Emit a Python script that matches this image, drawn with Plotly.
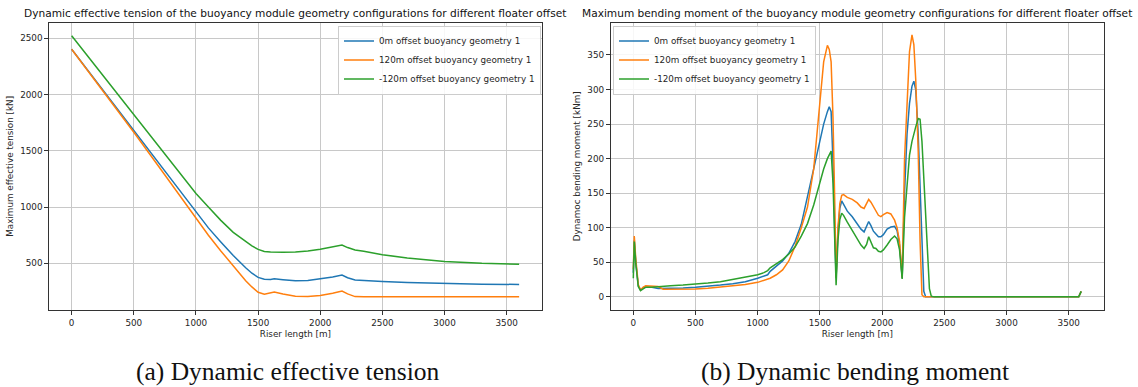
import plotly.graph_objects as go

W, H = 1138, 387

# ---- Effective tension envelopes along the riser ----
tension_length = [0, 250, 500, 750, 1000, 1100, 1200, 1300, 1400, 1450, 1500, 1550, 1600, 1630,
                  1700, 1800, 1900, 2000, 2100, 2175, 2220, 2280, 2350, 2500, 2700, 3000, 3300, 3600]
tension_0m = [2403, 2040, 1680, 1315, 950, 815, 690, 570, 460, 412, 375, 358, 357, 362,
              355, 346, 348, 360, 378, 395, 372, 352, 347, 338, 330, 320, 315, 312]
tension_120m = [2403, 2035, 1665, 1285, 895, 750, 610, 475, 345, 290, 242, 226, 234, 245,
                228, 208, 204, 214, 234, 253, 228, 204, 202, 202, 202, 202, 202, 202]
tension_neg120m = [2523, 2170, 1820, 1470, 1120, 1000, 882, 775, 690, 655, 624, 606, 600, 598,
                   598, 600, 609, 625, 645, 663, 640, 618, 607, 577, 548, 517, 500, 492]

# ---- Bending moment envelopes along the riser ----
moment_length = [0, 8, 20, 40, 58, 80, 100, 150, 200, 240,
                 300, 400, 500, 600, 700, 800, 900, 1000, 1050, 1080,
                 1100, 1150, 1200, 1250, 1300, 1350, 1400, 1450, 1500, 1530,
                 1560, 1575, 1590, 1605, 1620, 1630, 1645, 1660, 1675, 1690,
                 1720, 1760, 1800, 1830, 1855, 1875, 1892, 1910, 1930, 1950,
                 1970, 1990, 2010, 2040, 2070, 2100, 2120, 2140, 2161, 2180,
                 2200, 2220, 2240, 2255, 2270, 2290, 2305, 2320, 2335, 2350,
                 2365, 2380, 2395, 2420, 3000, 3580, 3600]
moment_0m = [35, 82, 50, 16, 10, 13, 14, 14, 12, 12,
             13, 13, 14, 15, 17, 19, 22, 27, 30, 32,
             37, 44, 52, 63, 80, 105, 145, 184, 225, 250,
             268, 275, 268, 195, 90, 27, 95, 128, 139, 134,
             124, 116, 105, 98, 94, 101, 109, 103, 95, 91,
             87, 87, 90, 98, 101, 102, 96, 75, 27, 150,
             235, 280, 305, 312, 300, 235, 150, 60, 8, 0,
             0, 0, 0, 0, 0, 0, 8]
moment_120m = [40, 88, 55, 18, 10, 14, 16, 16, 15, 11,
               11, 11, 11.5, 12.5, 14, 16, 18, 21, 24, 26,
               27, 32, 39, 52, 73, 100, 130, 185, 280, 340,
               364, 358, 340, 260, 130, 28, 100, 135, 147, 148,
               144, 141, 136, 130, 128, 134, 141, 137, 130, 124,
               118, 116, 119, 122, 120, 111, 100, 80, 28, 200,
               290, 355, 379, 365, 315, 210, 80, 3, 0, 0,
               0, 0, 0, 0, 0, 0, 8]
moment_neg120m = [27, 80, 48, 15, 9, 12, 14, 14, 15, 15,
                  16, 17, 18, 20, 22, 25, 29, 32, 35, 38,
                  42, 48, 54, 62, 72, 88, 106, 133, 168, 185,
                  200, 207, 211, 165, 75, 17, 82, 112, 121, 118,
                  108, 96, 84, 75, 70, 76, 87, 79, 71, 70,
                  66, 65, 68, 75, 83, 88, 84, 68, 26, 115,
                  165, 205, 225, 237, 246, 258, 257, 225, 170, 115,
                  55, 12, 1, 0, 0, 0, 8]

series_names = ["0m offset buoyancy geometry 1",
                "120m offset buoyancy geometry 1",
                "-120m offset buoyancy geometry 1"]
series_colors = ["#1f77b4", "#ff7f0e", "#2ca02c"]

length_ticks = [0, 500, 1000, 1500, 2000, 2500, 3000, 3500]
tension_ticks = [500, 1000, 1500, 2000, 2500]
moment_ticks = [0, 50, 100, 150, 200, 250, 300, 350]

FONT = "DejaVu Sans"
TXT = "#262626"


def dom_x(a, b):
    return [a / W, b / W]


def dom_y(top, bottom):
    return [1 - bottom / H, 1 - top / H]


fig = go.Figure()

for name, color, ys in zip(series_names, series_colors,
                           [tension_0m, tension_120m, tension_neg120m]):
    fig.add_trace(go.Scatter(x=tension_length, y=ys, mode="lines", name=name,
                             line=dict(color=color, width=1.5),
                             xaxis="x", yaxis="y", legend="legend"))

for name, color, ys in zip(series_names, series_colors,
                           [moment_0m, moment_120m, moment_neg120m]):
    fig.add_trace(go.Scatter(x=moment_length, y=ys, mode="lines", name=name,
                             line=dict(color=color, width=1.5),
                             xaxis="x2", yaxis="y2", legend="legend2"))

axis_style = dict(showline=True, mirror=True, linecolor="#333333", linewidth=1,
                  ticks="outside", ticklen=4, tickwidth=1, tickcolor="#333333",
                  showgrid=True, gridcolor="#c8c8c8", gridwidth=1, zeroline=False,
                  tickfont=dict(family=FONT, size=8.8, color=TXT),
                  automargin=False)

legend_style = dict(bgcolor="rgba(255,255,255,0.85)", bordercolor="#cccccc", borderwidth=1,
                    font=dict(family=FONT, size=8.8, color=TXT), itemwidth=30,
                    xanchor="left", yanchor="top", tracegroupgap=0)

fig.update_layout(
    template="none",
    width=W, height=H,
    margin=dict(l=0, r=0, t=0, b=0),
    paper_bgcolor="white", plot_bgcolor="white",
    xaxis=dict(domain=dom_x(49.3, 541.5), range=[-180, 3780], tickvals=length_ticks,
               anchor="y", title=dict(text="Riser length [m]", standoff=4,
                                      font=dict(family=FONT, size=8.8, color=TXT)),
               **axis_style),
    yaxis=dict(domain=dom_y(22.7, 310), range=[85, 2639], tickvals=tension_ticks,
               anchor="x", title=dict(text="Maximum effective tension [kN]", standoff=5,
                                      font=dict(family=FONT, size=8.8, color=TXT)),
               **axis_style),
    xaxis2=dict(domain=dom_x(610.9, 1103.6), range=[-180, 3780], tickvals=length_ticks,
                anchor="y2", title=dict(text="Riser length [m]", standoff=4,
                                        font=dict(family=FONT, size=8.8, color=TXT)),
                **axis_style),
    yaxis2=dict(domain=dom_y(22.5, 310), range=[-19, 397], tickvals=moment_ticks,
                anchor="x2", title=dict(text="Dynamoc bending moment [kNm]", standoff=5,
                                        font=dict(family=FONT, size=8.8, color=TXT)),
                **axis_style),
    legend=dict(x=338 / W, y=1 - 25.5 / H, **legend_style),
    legend2=dict(x=613 / W, y=1 - 25.5 / H, **legend_style),
    showlegend=True,
)

titles = [
    ("Dynamic effective tension of the buoyancy module geometry configurations for different floater offset", 295.4),
    ("Maximum bending moment of the buoyancy module geometry configurations for different floater offset", 857.2),
]
for text, cx in titles:
    fig.add_annotation(text=text, x=cx / W, y=1 - 13.5 / H, xref="paper", yref="paper",
                       xanchor="center", yanchor="middle", showarrow=False,
                       font=dict(family=FONT, size=10.6, color="#111111"))

captions = [("(a) Dynamic effective tension", 287.5), ("(b) Dynamic bending moment", 855)]
for text, cx in captions:
    fig.add_annotation(text=text, x=cx / W, y=1 - 371.5 / H, xref="paper", yref="paper",
                       xanchor="center", yanchor="middle", showarrow=False,
                       font=dict(family="Liberation Serif", size=25.5, color="#111111"))

fig.write_html("out.html")
